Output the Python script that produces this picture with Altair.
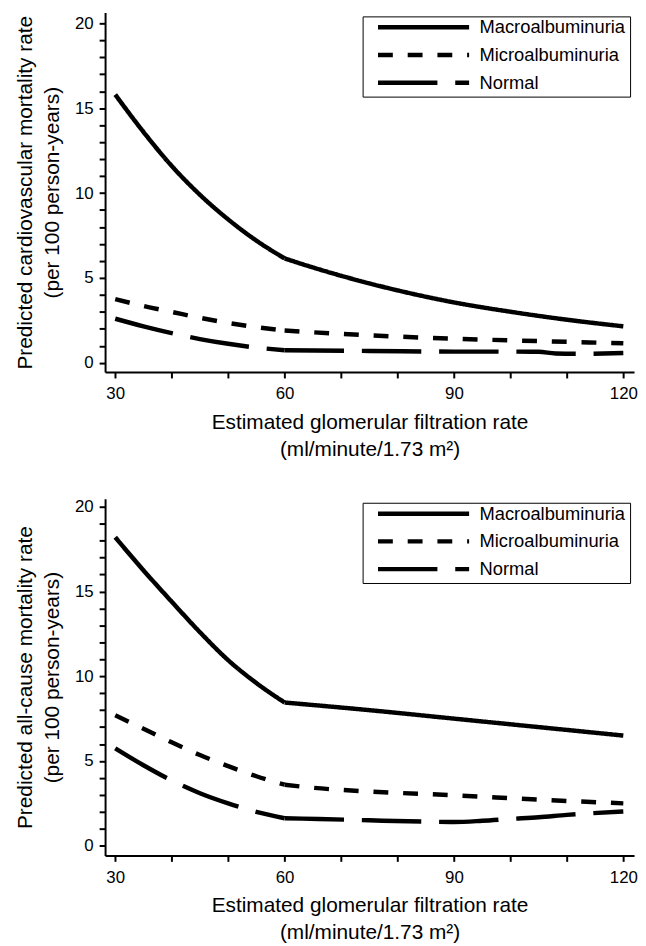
import altair as alt
import pandas as pd

series = ["Macroalbuminuria", "Microalbuminuria", "Normal"]
dashes = [[1, 0], [15, 15], [60, 18]]

# Top panel: predicted cardiovascular mortality rate
cv_macro_x = [30, 35, 40, 45, 50, 55, 60, 65, 70, 75, 80, 90, 100, 110, 120]
cv_macro_y = [15.8, 13.6, 11.6, 9.9, 8.45, 7.2, 6.15, 5.62, 5.13, 4.68, 4.27, 3.56, 3.01, 2.54, 2.15]
cv_micro_x = [30, 35, 40, 45, 50, 55, 60, 75, 90, 105, 120]
cv_micro_y = [3.75, 3.35, 3.0, 2.65, 2.35, 2.1, 1.9, 1.62, 1.42, 1.28, 1.15]
cv_norm_x = [30, 35, 40, 45, 50, 55, 60, 75, 90, 100, 105, 108, 112, 120]
cv_norm_y = [2.6, 2.15, 1.75, 1.4, 1.12, 0.9, 0.74, 0.7, 0.66, 0.66, 0.65, 0.55, 0.53, 0.58]

# Bottom panel: predicted all-cause mortality rate
ac_macro_x = [30, 35, 40, 45, 50, 55, 60, 75, 90, 105, 120]
ac_macro_y = [18.2, 16.25, 14.4, 12.6, 10.95, 9.6, 8.45, 8.0, 7.5, 7.0, 6.5]
ac_micro_x = [30, 35, 40, 45, 50, 55, 60, 65, 75, 90, 105, 120]
ac_micro_y = [7.7, 6.9, 6.1, 5.35, 4.7, 4.1, 3.6, 3.42, 3.2, 2.98, 2.72, 2.5]
ac_norm_x = [30, 35, 40, 45, 50, 55, 60, 66, 75, 85, 90, 95, 100, 105, 110, 120]
ac_norm_y = [5.75, 4.75, 3.85, 3.1, 2.5, 2.0, 1.62, 1.58, 1.5, 1.42, 1.4, 1.47, 1.58, 1.68, 1.82, 2.02]

# the spline has a knot at eGFR 60
knot = 60

x_tick_values = [30, 40, 50, 60, 70, 80, 90, 100, 110, 120]
y_tick_values = list(range(0, 21))

x_title = ["Estimated glomerular filtration rate", "(ml/minute/1.73 m\u00b2)"]
top_y_title = ["Predicted cardiovascular mortality rate", "(per 100 person-years)"]
bot_y_title = ["Predicted all-cause mortality rate", "(per 100 person-years)"]


def build_df(parts):
    rows = []
    for name, xs, ys in parts:
        for x, y in zip(xs, ys):
            if x <= knot:
                rows.append({"gfr": x, "rate": y, "group": name, "seg": "low"})
            if x >= knot:
                rows.append({"gfr": x, "rate": y, "group": name, "seg": "high"})
    return pd.DataFrame(rows)


top_df = build_df([
    ("Macroalbuminuria", cv_macro_x, cv_macro_y),
    ("Microalbuminuria", cv_micro_x, cv_micro_y),
    ("Normal", cv_norm_x, cv_norm_y),
])
bot_df = build_df([
    ("Macroalbuminuria", ac_macro_x, ac_macro_y),
    ("Microalbuminuria", ac_micro_x, ac_micro_y),
    ("Normal", ac_norm_x, ac_norm_y),
])

FONT = "Liberation Sans"


def panel(df, y_title, y_domain, height):
    return alt.Chart(df).mark_line(
        color="black", strokeWidth=4.5, strokeCap="butt", strokeJoin="round",
        interpolate="monotone",
    ).encode(
        x=alt.X(
            "gfr:Q",
            scale=alt.Scale(domain=[28.2, 121.9], nice=False, zero=False),
            axis=alt.Axis(
                values=x_tick_values,
                labelExpr="datum.value % 30 == 0 ? datum.label : ''",
                title=x_title,
                titleLineHeight=27,
                labelPadding=8,
                titlePadding=10,
            ),
        ),
        y=alt.Y(
            "rate:Q",
            scale=alt.Scale(domain=y_domain, nice=False, zero=False),
            axis=alt.Axis(
                values=y_tick_values,
                labelExpr="datum.value % 5 == 0 ? datum.label : ''",
                title=y_title,
                titleLineHeight=27,
                labelPadding=6,
                titlePadding=12,
            ),
        ),
        detail="seg:N",
        strokeDash=alt.StrokeDash(
            "group:N",
            scale=alt.Scale(domain=series, range=dashes),
            legend=alt.Legend(
                title=None,
                orient="top-right",
                offset=4,
                padding=4,
                strokeColor="black",
                fillColor="white",
                labelFontSize=18.5,
                labelFont=FONT,
                labelColor="black",
                labelOffset=8,
                rowPadding=9,
                clipHeight=14,
                symbolType="stroke",
                symbolSize=8464,
                symbolStrokeWidth=4.5,
                symbolStrokeColor="black",
                symbolOffset=9,
            ),
        ),
    ).properties(width=534, height=height)


top = panel(top_df, top_y_title, [-0.54, 20.64], 363)
bot = panel(bot_df, bot_y_title, [-0.57, 20.47], 360)

chart = alt.vconcat(top, bot, spacing=39).resolve_legend(
    strokeDash="independent"
).properties(
    padding={"left": 7, "top": 0, "right": 0, "bottom": 0}
).configure_view(
    stroke=None
).configure_axis(
    grid=False,
    domainColor="black",
    domainWidth=2,
    tickColor="black",
    tickWidth=2,
    tickSize=6,
    labelFont=FONT,
    labelFontSize=17,
    labelColor="black",
    titleFont=FONT,
    titleFontSize=21,
    titleFontWeight="normal",
    titleColor="black",
)

chart.save("out.html", embed_options={"renderer": "svg", "actions": False})
